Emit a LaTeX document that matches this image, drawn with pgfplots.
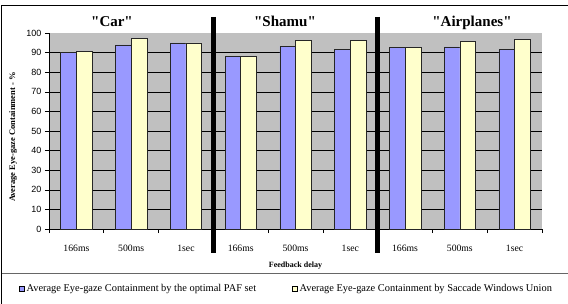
\documentclass[border=0pt]{standalone}
\usepackage{fontspec}
\setmainfont{Liberation Serif}
\setsansfont{Liberation Sans}
\newfontfamily\plainserif{Liberation Serif}[Ligatures=TeXOff]
\usepackage{pgfplots}
\pgfplotsset{compat=1.18}
\definecolor{barblue}{HTML}{9999FF}
\definecolor{barylw}{HTML}{FFFFCC}
\definecolor{plotgray}{HTML}{C0C0C0}
\begin{document}
\begin{tikzpicture}[x=1pt,y=1pt]
\useasboundingbox (0,0) rectangle (568,303);
\draw[line width=0.8pt] (1.5,-5) -- (1.5,298) -- (575,298);
\draw[line width=0.8pt, black!60] (1.5,30) -- (575,30);
\begin{axis}[
  at={(49pt,74pt)}, anchor=south west, scale only axis,
  width=493pt, height=196pt,
  xmin=-0.5, xmax=8.5, ymin=0, ymax=100,
  ybar=0pt, bar width=15.7pt,
  axis background/.style={fill=plotgray},
  axis x line*=bottom, axis y line*=left,
  axis line style={-, black, line width=0.6pt},
  tick style={black, line width=0.6pt},
  major tick length=4pt, tick align=outside,
  ytick={0,10,...,100},
  yticklabel style={font=\sffamily\fontsize{9}{9}\selectfont},
  /pgf/number format/assume math mode=true,
  xtick={-0.5,0.5,...,8.5},
  xticklabels={},
  extra x ticks={0,1,...,8},
  extra x tick labels={166ms,500ms,1sec,166ms,500ms,1sec,166ms,500ms,1sec},
  extra x tick style={major tick length=0pt, tick label style={font=\fontsize{9.7}{9.7}\selectfont, anchor=base, yshift=-22pt}},
  extra y ticks={10,20,...,90},
  extra y tick labels={},
  extra y tick style={major tick length=0pt, grid=major, major grid style={black, line width=0.6pt}},
  legend columns=2,
  legend style={at={(-0.0609,-0.306)}, anchor=west, draw=none, fill=none,
    inner sep=0pt, font=\fontsize{10.4}{10.4}\selectfont,
    /tikz/every even column/.append style={column sep=34pt}},
  legend image code/.code={\draw[#1,draw=black,line width=0.4pt] (0pt,-2.5pt) rectangle (5pt,2.5pt);},
]
\addplot[fill=barblue, draw=black!85, line width=0.5pt] coordinates {
  (0,90.3) (1,94.0) (2,94.9) (3,88.1) (4,93.2) (5,91.5) (6,92.7) (7,92.9) (8,91.5)};
\addlegendentry{Average Eye-gaze Containment by the optimal PAF set}
\addplot[fill=barylw, draw=black!85, line width=0.5pt] coordinates {
  (0,90.5) (1,97.4) (2,94.9) (3,88.0) (4,96.2) (5,96.2) (6,92.7) (7,95.6) (8,96.6)};
\addlegendentry{Average Eye-gaze Containment by Saccade Windows Union}
\end{axis}
\draw[line width=4.5pt] (213.3,286) -- (213.3,50);
\draw[line width=4.5pt] (377.7,286) -- (377.7,50);
\node[anchor=base, font=\plainserif\bfseries\fontsize{15}{15}\selectfont] at (112,276) {"Car"};
\node[anchor=base, font=\plainserif\bfseries\fontsize{15}{15}\selectfont] at (285,276) {"Shamu"};
\node[anchor=base, font=\plainserif\bfseries\fontsize{15}{15}\selectfont] at (472,276) {"Airplanes"};
\node[anchor=base, font=\bfseries\fontsize{8}{8}\selectfont] at (295.5,36) {Feedback delay};
\node[rotate=90, font=\bfseries\fontsize{8.5}{8.5}\selectfont] at (13,166) {Average Eye-gaze Containment - \%};
\end{tikzpicture}
\end{document}
